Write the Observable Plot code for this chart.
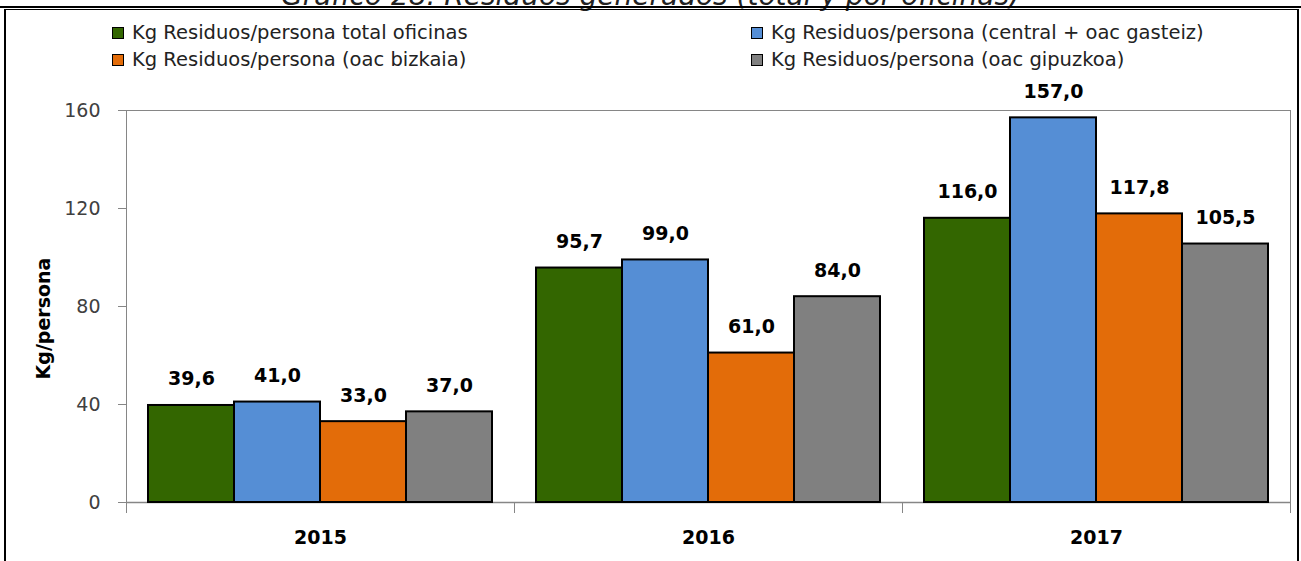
<!DOCTYPE html>
<html>
<head>
<meta charset="utf-8">
<script src="https://cdn.jsdelivr.net/npm/d3@7"></script>
<script src="https://cdn.jsdelivr.net/npm/@observablehq/plot@0.6"></script>
<style>
  html, body { margin: 0; padding: 0; background: #fff; }
  #wrap { position: relative; width: 1301px; height: 561px; overflow: hidden; background: #fff; font-family: "DejaVu Sans", sans-serif; }
  #title { position: absolute; left: 0; width: 1301px; top: -18px; text-align: center; font-style: italic; font-size: 28px; line-height: 28px; color: #222; text-decoration: underline; text-decoration-thickness: 1px; white-space: nowrap; }
  #rule { position: absolute; left: 0; top: 6px; width: 1301px; height: 2px; background: #000; }
  #box { position: absolute; left: 4px; top: 9px; width: 1291px; height: 600px; border-top: 1px solid #000; border-left: 2px solid #000; border-right: 2px solid #000; }
  .leg { position: absolute; display: flex; align-items: center; font-size: 19.5px; color: #222; white-space: nowrap; }
  .sw { width: 10px; height: 10px; border: 1.5px solid #000; margin-right: 8px; }
  #chart { position: absolute; left: 0; top: 75px; }
</style>
</head>
<body>
<div id="wrap">
  <div id="title">Gráfico 28. Residuos generados (total y por oficinas)</div>
  <div id="rule"></div>
  <div id="box"></div>
  <div id="legend"></div>
  <div id="chart"></div>
</div>
<script>
const years = ["2015", "2016", "2017"];
const series = [
  "Kg Residuos/persona total oficinas",
  "Kg Residuos/persona (central + oac gasteiz)",
  "Kg Residuos/persona (oac bizkaia)",
  "Kg Residuos/persona (oac gipuzkoa)"
];
const colors = ["#336600", "#558ED5", "#E36C09", "#808080"];
const totalOficinas = [39.6, 95.7, 116.0];
const centralGasteiz = [41.0, 99.0, 157.0];
const oacBizkaia = [33.0, 61.0, 117.8];
const oacGipuzkoa = [37.0, 84.0, 105.5];
const yTicks = [0, 40, 80, 120, 160];
const yLabel = "Kg/persona";

const seriesValues = [totalOficinas, centralGasteiz, oacBizkaia, oacGipuzkoa];
const data = years.flatMap((yr, i) => seriesValues.map((arr, j) => ({year: yr, series: series[j], value: arr[i]})));

// Legend (2 x 2 grid, row-major like the reference)
const legendPos = [
  {left: 112, top: 21}, {left: 751, top: 21},
  {left: 112, top: 48}, {left: 751, top: 48}
];
const legend = document.getElementById("legend");
series.forEach((s, j) => {
  const el = document.createElement("div");
  el.className = "leg";
  el.style.left = legendPos[j].left + "px";
  el.style.top = legendPos[j].top + "px";
  el.innerHTML = `<span class="sw" style="background:${colors[j]}"></span><span>${s}</span>`;
  legend.appendChild(el);
});

const fmt = v => v.toFixed(1).replace(".", ",");
const gray = "#868686";

const chart = Plot.plot({
  width: 1301,
  height: 486,
  marginTop: 35,
  marginBottom: 59,
  marginLeft: 126,
  marginRight: 11,
  style: {fontFamily: "DejaVu Sans", background: "transparent", overflow: "visible"},
  fx: {domain: years, padding: 0, label: null},
  x: {domain: series, paddingInner: 0, paddingOuter: 0.235, axis: null},
  y: {domain: [0, 160], label: null},
  color: {domain: series, range: colors},
  marks: [
    Plot.ruleY([160], {stroke: gray, strokeWidth: 1}),
    Plot.frame({anchor: "left", facetAnchor: "left", stroke: gray, insetBottom: -10}),
    Plot.frame({anchor: "right", facetAnchor: "right", stroke: gray, insetBottom: -10}),
    Plot.frame({anchor: "left", stroke: gray, insetTop: 392, insetBottom: -10}),
    Plot.axisY({ticks: yTicks, tickSize: 8, tickPadding: 18, fontSize: 19, stroke: gray, fill: "#404040", tickFormat: d => String(d), label: null}),
    Plot.ruleY([0], {stroke: gray, strokeWidth: 1.5}),
    Plot.barY(data, {fx: "year", x: "series", y: "value", fill: "series", stroke: "#000", strokeWidth: 2}),
    Plot.text(data, {fx: "year", x: "series", y: "value", text: d => fmt(d.value), dy: -20, lineAnchor: "bottom", fontWeight: "bold", fontSize: 19, fill: "#000"}),
    Plot.axisFx({anchor: "bottom", tickSize: 0, tickPadding: 28, fontSize: 19, fontWeight: "bold", fill: "#000", label: null}),
    Plot.text([yLabel], {frameAnchor: "left", facetAnchor: "left", text: d => d, rotate: -90, textAnchor: "middle", dx: -83, dy: 12, fontWeight: "bold", fontSize: 19, fill: "#000"})
  ]
});
document.getElementById("chart").appendChild(chart);
</script>
</body>
</html>
